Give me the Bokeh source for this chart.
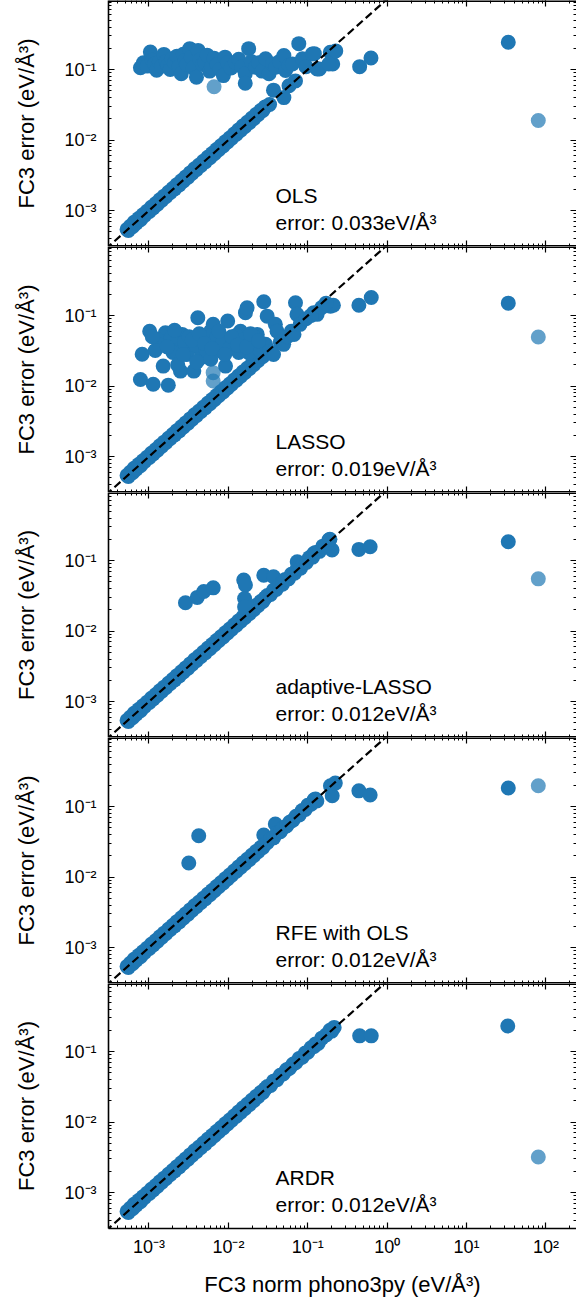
from bokeh.plotting import figure
from bokeh.layouts import column
from bokeh.models import Range1d, LogAxis, LogTicker, CustomJSTickFormatter, Label
from bokeh.embed import file_html
from bokeh.resources import INLINE

# ---------------- data ----------------
methods = ["OLS", "LASSO", "adaptive-LASSO", "RFE with OLS", "ARDR"]
errors = ["0.033", "0.019", "0.012", "0.012", "0.012"]

ref_line = [1e-4, 1e1]

diag_x = [5.3e-4, 5.5e-4, 5.8e-4, 6.2e-4, 6.5e-4, 6.9e-4, 7.4e-4, 7.8e-4, 8.4e-4, 8.8e-4,
          9.5e-4, 1.01e-3, 1.07e-3, 1.13e-3, 1.21e-3, 1.28e-3, 1.37e-3, 1.45e-3, 1.55e-3, 1.64e-3,
          1.76e-3, 1.86e-3, 1.99e-3, 2.1e-3, 2.25e-3, 2.4e-3, 2.56e-3, 2.72e-3, 2.9e-3, 3.1e-3,
          3.3e-3, 3.5e-3, 3.75e-3, 3.98e-3, 4.25e-3, 4.52e-3, 4.83e-3, 5.15e-3, 5.5e-3, 5.85e-3,
          6.25e-3, 6.65e-3, 7.1e-3, 7.55e-3, 8.05e-3, 8.6e-3, 9.15e-3, 9.75e-3, 1.04e-2, 1.1e-2,
          1.18e-2, 1.26e-2, 1.34e-2, 1.43e-2, 1.52e-2, 1.62e-2, 1.73e-2, 1.85e-2, 1.97e-2, 2.1e-2,
          2.24e-2, 2.38e-2, 2.55e-2, 2.72e-2, 2.9e-2]
diag_y = [5.4e-4, 5.2e-4, 6.0e-4, 5.9e-4, 6.8e-4, 6.6e-4, 7.7e-4, 7.4e-4, 8.7e-4, 8.5e-4,
          9.8e-4, 9.7e-4, 1.11e-3, 1.09e-3, 1.25e-3, 1.23e-3, 1.42e-3, 1.40e-3, 1.60e-3, 1.58e-3,
          1.82e-3, 1.80e-3, 2.05e-3, 2.03e-3, 2.33e-3, 2.31e-3, 2.64e-3, 2.63e-3, 3.0e-3, 2.98e-3,
          3.42e-3, 3.38e-3, 3.9e-3, 3.84e-3, 4.4e-3, 4.35e-3, 5.0e-3, 4.95e-3, 5.7e-3, 5.62e-3,
          6.45e-3, 6.4e-3, 7.35e-3, 7.28e-3, 8.3e-3, 8.28e-3, 9.45e-3, 9.4e-3, 1.07e-2, 1.06e-2,
          1.22e-2, 1.21e-2, 1.39e-2, 1.38e-2, 1.58e-2, 1.56e-2, 1.79e-2, 1.78e-2, 2.03e-2, 2.02e-2,
          2.31e-2, 2.3e-2, 2.63e-2, 2.62e-2, 2.95e-2]

ols_dark = [(7.8e-4, 0.106), (8.5e-4, 0.125), (9.5e-4, 0.112), (1.04e-3, 0.177), (1.1e-3, 0.135),
            (1.17e-3, 0.12), (1.25e-3, 0.098), (1.35e-3, 0.128), (1.45e-3, 0.112), (1.54e-3, 0.164),
            (1.65e-3, 0.13), (1.73e-3, 0.114), (1.85e-3, 0.1), (1.95e-3, 0.142), (2.1e-3, 0.125),
            (2.25e-3, 0.155), (2.4e-3, 0.11), (2.55e-3, 0.087), (2.7e-3, 0.165), (2.85e-3, 0.135),
            (3.0e-3, 0.118), (3.26e-3, 0.198), (3.4e-3, 0.15), (3.6e-3, 0.105), (3.96e-3, 0.078),
            (4.16e-3, 0.187), (4.4e-3, 0.138), (4.7e-3, 0.118), (5.05e-3, 0.127), (5.4e-3, 0.16),
            (5.8e-3, 0.095), (6.1e-3, 0.108), (6.6e-3, 0.145), (7.2e-3, 0.118), (7.8e-3, 0.1),
            (8.65e-3, 0.082), (9.07e-3, 0.15), (9.8e-3, 0.125), (0.0108, 0.105), (0.0122, 0.127),
            (0.0135, 0.14), (0.0148, 0.11), (0.0163, 0.087), (0.0163, 0.064), (0.018, 0.198),
            (0.0195, 0.13), (0.0219, 0.108), (0.024, 0.125), (0.0265, 0.095), (0.0294, 0.142),
            (0.0325, 0.087), (0.036, 0.12), (0.0393, 0.108), (0.044, 0.13), (0.05, 0.158),
            (0.0525, 0.097), (0.058, 0.115), (0.064, 0.12), (0.077, 0.233), (0.0856, 0.142),
            (0.095, 0.11), (0.114, 0.166), (0.121, 0.168), (0.14, 0.102), (0.192, 0.176),
            (0.206, 0.12), (0.225, 0.184), (0.033, 0.032), (0.037, 0.051), (0.05, 0.04),
            (0.058, 0.059), (0.07, 0.069), (0.131, 0.102), (0.184, 0.12), (0.45, 0.11),
            (0.625, 0.146), (33.5, 0.244)]
ols_light = [(6.6e-3, 0.057), (80.0, 0.0189)]

lasso_dark = [(7.8e-4, 0.0124), (1.13e-3, 0.0106), (1.75e-3, 0.0103), (8.2e-4, 0.0282), (1.02e-3, 0.06),
              (1.51e-3, 0.0192), (1.61e-3, 0.057), (2.26e-3, 0.039), (2.49e-3, 0.0163), (2.62e-3, 0.054),
              (3.34e-3, 0.035), (3.67e-3, 0.0163), (4.12e-3, 0.093), (4.45e-3, 0.025), (5.96e-3, 0.06),
              (6.43e-3, 0.075), (8.0e-3, 0.0314), (9.2e-3, 0.0192), (9.8e-3, 0.0835), (0.0117, 0.0435),
              (0.0142, 0.06), (0.0164, 0.11), (0.0172, 0.129), (0.018, 0.0297), (0.0231, 0.054),
              (0.0279, 0.157), (0.0308, 0.098), (0.0294, 0.039), (0.039, 0.075), (0.041, 0.06),
              (0.07, 0.152), (0.073, 0.104), (0.119, 0.11), (0.131, 0.104), (0.193, 0.136), (0.21, 0.14),
              (1.3e-3, 0.045), (1.4e-3, 0.038), (1.9e-3, 0.048), (2.0e-3, 0.03), (2.8e-3, 0.042),
              (3.0e-3, 0.028), (3.2e-3, 0.05), (3.9e-3, 0.038), (4.8e-3, 0.045), (5.2e-3, 0.033),
              (5.5e-3, 0.052), (6.8e-3, 0.04), (7.2e-3, 0.05), (8.5e-3, 0.042), (0.0105, 0.035),
              (0.0125, 0.052), (0.0135, 0.03), (0.0155, 0.045), (0.02, 0.04), (0.022, 0.048),
              (0.025, 0.032), (1.2e-3, 0.032), (2.3e-3, 0.02), (4.0e-3, 0.022), (6.0e-3, 0.024),
              (1.1e-3, 0.05), (0.033, 0.031), (0.037, 0.028), (0.045, 0.042), (0.0496, 0.039),
              (0.055, 0.05), (0.062, 0.06), (0.067, 0.054), (0.08, 0.075), (0.095, 0.09), (0.11, 0.1),
              (0.15, 0.13), (0.17, 0.15), (0.44, 0.14), (0.63, 0.18), (33.5, 0.15),
              (1.7e-3, 0.036), (2.1e-3, 0.062), (2.7e-3, 0.028), (3.5e-3, 0.045), (4.3e-3, 0.055),
              (5.0e-3, 0.04), (6.2e-3, 0.034), (7.6e-3, 0.06), (9.0e-3, 0.028), (0.011, 0.05),
              (0.013, 0.038), (0.017, 0.036), (0.019, 0.055), (0.024, 0.044)]
lasso_light = [(6.43e-3, 0.0155), (6.43e-3, 0.0118), (80.0, 0.0496)]

alasso_dark = [(2.88e-3, 0.0252), (4.05e-3, 0.030), (4.9e-3, 0.0363), (6.44e-3, 0.041), (0.0156, 0.0528),
               (0.0164, 0.0449), (0.0279, 0.062), (0.037, 0.059), (0.016, 0.029), (0.016, 0.022),
               (0.0736, 0.096), (0.119, 0.126), (0.184, 0.195), (0.202, 0.141), (0.44, 0.144), (0.61, 0.157),
               (0.031, 0.032), (0.034, 0.033), (0.037, 0.038), (0.04, 0.039), (0.044, 0.045), (0.048, 0.046),
               (0.052, 0.054), (0.057, 0.055), (0.062, 0.064), (0.068, 0.066), (0.074, 0.077), (0.081, 0.078),
               (0.088, 0.092), (0.096, 0.094), (0.105, 0.11), (0.115, 0.112), (0.125, 0.13), (0.14, 0.135),
               (0.155, 0.16), (0.17, 0.165), (0.19, 0.2), (33.5, 0.185)]
alasso_light = [(80.0, 0.055)]

rfe_dark = [(3.17e-3, 0.0158), (4.23e-3, 0.0385), (0.0279, 0.0394), (0.039, 0.0565), (0.203, 0.142),
            (0.193, 0.197), (0.222, 0.215), (0.44, 0.167), (0.61, 0.146),
            (0.031, 0.031), (0.034, 0.035), (0.037, 0.036), (0.041, 0.042), (0.045, 0.044), (0.049, 0.05),
            (0.054, 0.053), (0.059, 0.06), (0.065, 0.064), (0.071, 0.073), (0.078, 0.076), (0.085, 0.088),
            (0.093, 0.091), (0.1, 0.104), (0.11, 0.108), (0.12, 0.125), (0.125, 0.128), (0.13, 0.12),
            (33.5, 0.183)]
rfe_light = [(80.0, 0.197)]

ardr_dark = [(0.031, 0.032), (0.034, 0.033), (0.037, 0.038), (0.041, 0.04), (0.045, 0.046), (0.049, 0.048),
             (0.054, 0.055), (0.059, 0.058), (0.065, 0.066), (0.071, 0.07), (0.078, 0.08), (0.085, 0.083),
             (0.093, 0.095), (0.1, 0.098), (0.11, 0.113), (0.12, 0.118), (0.125, 0.128), (0.135, 0.13),
             (0.15, 0.155), (0.17, 0.172), (0.19, 0.2), (0.2, 0.195), (0.215, 0.22),
             (0.45, 0.167), (0.63, 0.167), (33.0, 0.23)]
ardr_light = [(80.0, 0.0032)]

panel_dark = [ols_dark, lasso_dark, alasso_dark, rfe_dark, ardr_dark]
panel_light = [ols_light, lasso_light, alasso_light, rfe_light, ardr_light]

# ---------------- layout / style ----------------
FONT = "Liberation Sans"
BLUE = "#1f77b4"
LOG_MIN = -3.51
PX_DEC_X = 79.4
PX_DEC_Y = 70.5
LEFT = 108
FRAME_W = 468
frame_heights = [246, 246, 245, 246, 245]
BOTTOM = 74

x_lo = 10 ** LOG_MIN
x_hi = 10 ** (LOG_MIN + FRAME_W / PX_DEC_X)

sup_code = """
const e = Math.round(Math.log10(tick));
const m = {"-": "\\u207b", "0": "\\u2070", "1": "\\u00b9", "2": "\\u00b2", "3": "\\u00b3",
           "4": "\\u2074", "5": "\\u2075", "6": "\\u2076", "7": "\\u2077", "8": "\\u2078", "9": "\\u2079"};
return "10" + String(e).split("").map(c => m[c]).join("");
"""


def make_axis(fixed, labels, axis_label=None, standoff=8, label_standoff=14,
              line_width=1.6, line_color="black"):
    fmt = CustomJSTickFormatter(code=sup_code if labels else "return '';")
    ax = LogAxis(ticker=LogTicker(num_minor_ticks=10), formatter=fmt)
    if fixed is not None:
        ax.fixed_location = fixed
    ax.axis_line_color = line_color
    ax.axis_line_width = line_width
    ax.major_tick_in = 6
    ax.major_tick_out = 0
    ax.minor_tick_in = 3
    ax.minor_tick_out = 0
    ax.major_tick_line_color = "black"
    ax.major_tick_line_width = 1.2
    ax.minor_tick_line_color = "black"
    ax.minor_tick_line_width = 1.0
    ax.major_label_text_font = FONT
    ax.major_label_text_font_size = "18px"
    ax.major_label_text_color = "black"
    ax.major_label_standoff = standoff
    if axis_label:
        ax.axis_label = axis_label
        ax.axis_label_text_font = FONT
        ax.axis_label_text_font_size = "22px"
        ax.axis_label_text_font_style = "normal"
        ax.axis_label_text_color = "black"
        ax.axis_label_standoff = label_standoff
    return ax


figs = []
n = len(methods)
for i in range(n):
    h = frame_heights[i]
    last = i == n - 1
    y_lo = 10 ** LOG_MIN
    y_hi = 10 ** (LOG_MIN + h / PX_DEC_Y)
    p = figure(width=LEFT + FRAME_W, height=h + (BOTTOM if last else 0),
               x_axis_type="log", y_axis_type="log",
               x_range=Range1d(x_lo, x_hi), y_range=Range1d(y_lo, y_hi),
               x_axis_location=None, y_axis_location=None,
               toolbar_location=None, output_backend="svg",
               min_border=0, min_border_left=LEFT, min_border_right=0,
               min_border_top=0, min_border_bottom=(BOTTOM if last else 0))
    p.grid.visible = False
    p.outline_line_color = None
    p.background_fill_color = "white"
    p.border_fill_color = "white"

    if last:
        p.add_layout(make_axis(None, True, "FC3 norm phono3py (eV/Å³)",
                               standoff=8, label_standoff=12), "below")
    else:
        p.add_layout(make_axis(y_lo, False, line_width=3.2), "below")
    p.add_layout(make_axis(y_hi, False, line_width=3.2), "above")
    p.add_layout(make_axis(None, True, "FC3 error (eV/Å³)", standoff=12, label_standoff=22), "left")
    p.add_layout(make_axis(x_hi, False, line_color=None), "right")

    lx = [a for a, b in panel_light[i]]
    ly = [b for a, b in panel_light[i]]
    p.scatter(lx, ly, size=15, fill_color=BLUE, fill_alpha=0.7, line_color=None)

    dx = diag_x + [a for a, b in panel_dark[i]]
    dy = diag_y + [b for a, b in panel_dark[i]]
    p.scatter(dx, dy, size=15, fill_color=BLUE, fill_alpha=1.0, line_color=None)

    p.line(ref_line, ref_line, line_color="black", line_width=2.2, line_dash="8 4")

    tx = 10 ** (LOG_MIN + (275 - 108) / PX_DEC_X)
    y_name = 10 ** (LOG_MIN + 51 / PX_DEC_Y)
    y_err = 10 ** (LOG_MIN + 24.3 / PX_DEC_Y)
    p.add_layout(Label(x=tx, y=y_name, text=methods[i], text_font=FONT,
                       text_font_size="21px", text_color="black", text_baseline="alphabetic"))
    p.add_layout(Label(x=tx, y=y_err, text="error: " + errors[i] + "eV/Å³", text_font=FONT,
                       text_font_size="21px", text_color="black", text_baseline="alphabetic"))
    figs.append(p)

layout = column(*figs, spacing=0)
open("out.html", "w").write(file_html(layout, INLINE))
